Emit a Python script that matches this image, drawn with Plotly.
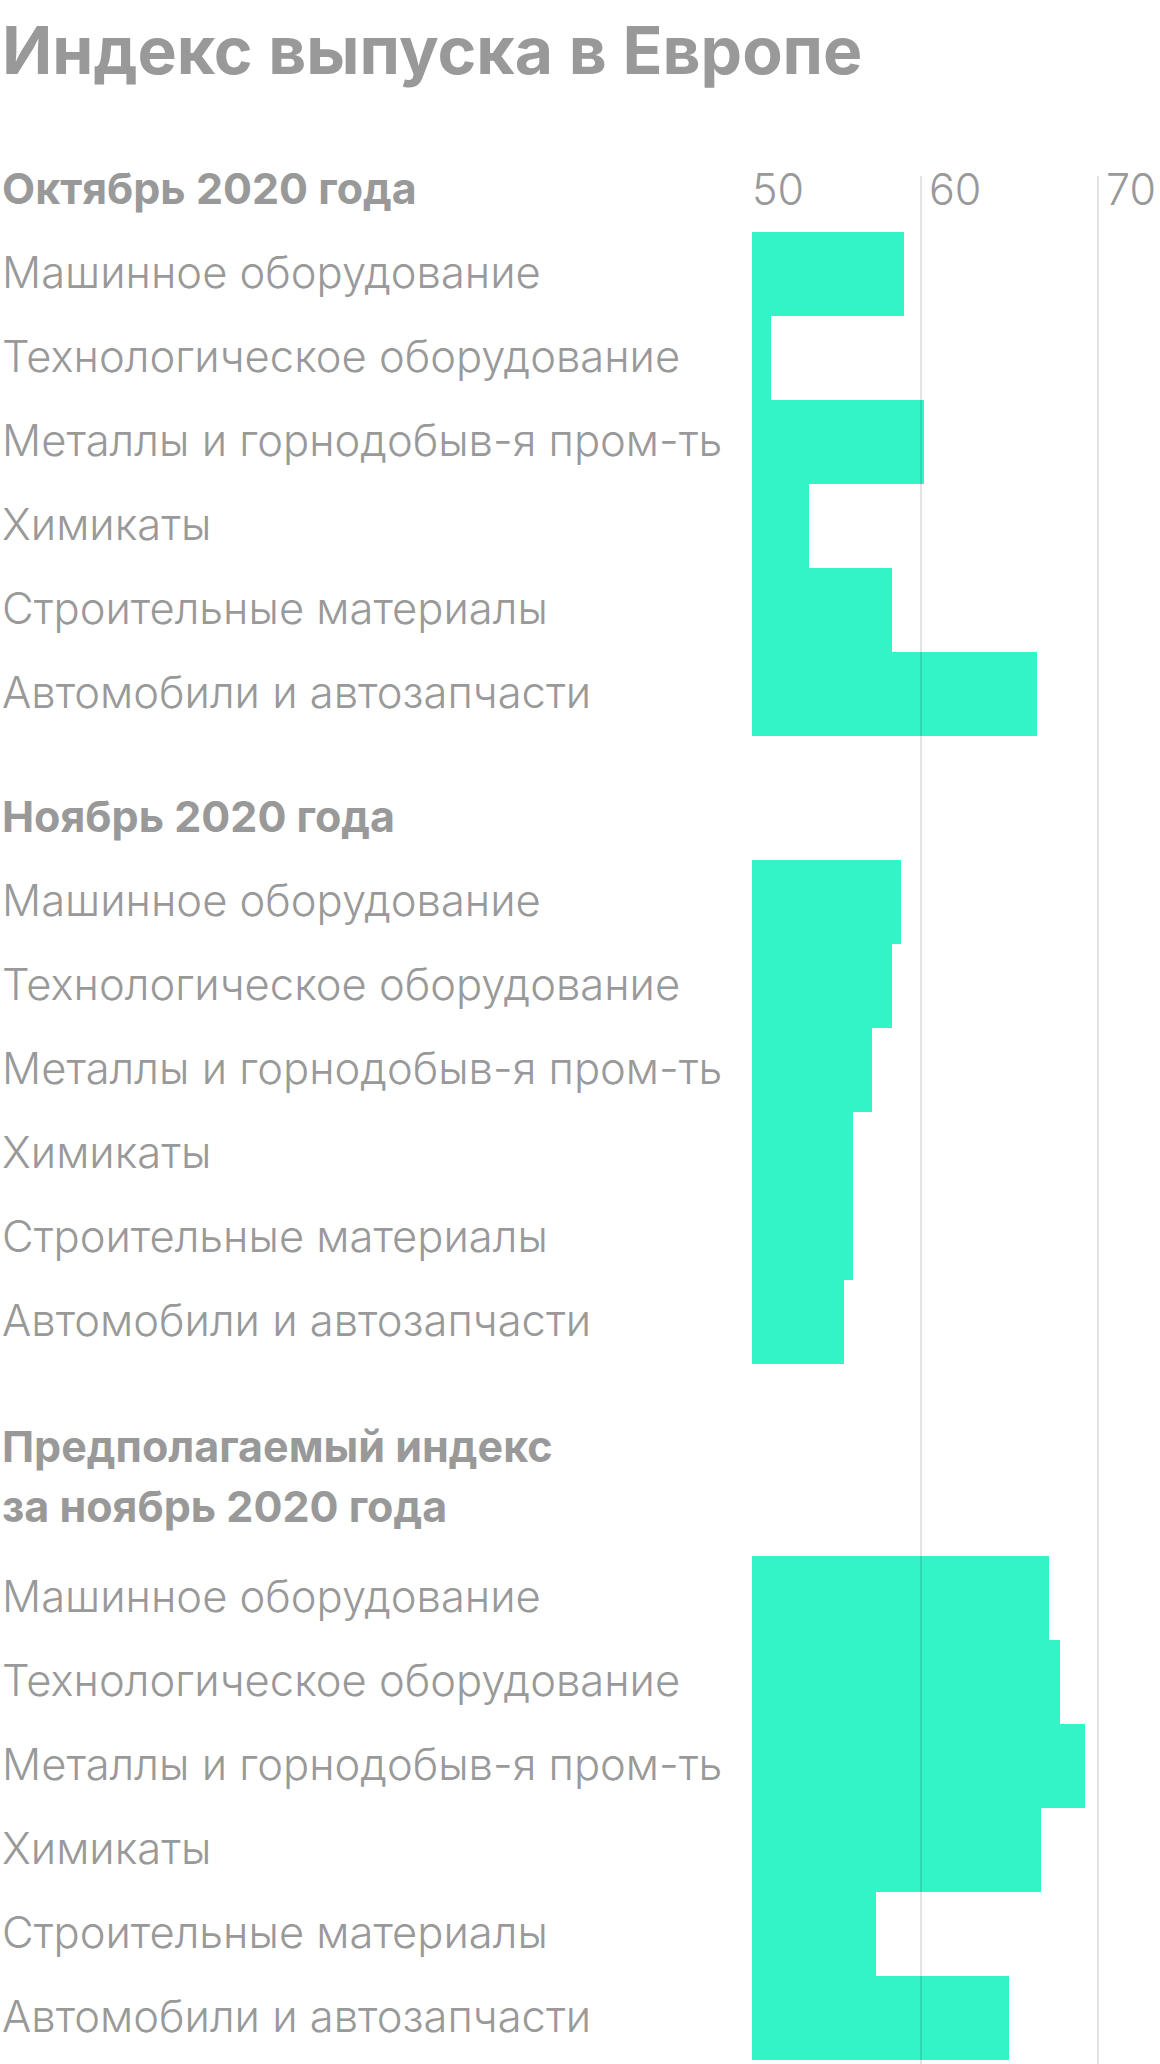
import plotly.graph_objects as go

# Индекс выпуска в Европе (PMI по отраслям)
categories = [
    "Машинное оборудование",
    "Технологическое оборудование",
    "Металлы и горнодобыв-я пром-ть",
    "Химикаты",
    "Строительные материалы",
    "Автомобили и автозапчасти",
]
oct_2020 = [58.6, 51.1, 59.7, 53.2, 57.9, 66.1]
nov_2020 = [58.4, 57.9, 56.8, 55.7, 55.7, 55.2]
nov_forecast = [66.8, 67.4, 68.8, 66.3, 57.0, 64.5]

# header lines per block (the last one takes two lines)
group_titles = [["Октябрь 2020 года"], ["Ноябрь 2020 года"],
                ["Предполагаемый индекс", "за ноябрь 2020 года"]]
tick_vals = [50, 60, 70]
tick_text = ["50", "60", "70"]

W, H = 1160, 2064
GREEN = "#33f4c6"
GREY = "#999999"
FONT = "Inter"

# pixel layout of the three blocks (top, bottom)
blocks = [(232, 736), (860, 1364), (1556, 2060)]
x_left = 752
px_per_unit = 17.7

fig = go.Figure()
series = [oct_2020, nov_2020, nov_forecast]
yaxes = ["y", "y2", "y3"]

for vals, ya in zip(series, yaxes):
    fig.add_trace(go.Bar(
        x=vals, y=categories, orientation="h",
        xaxis="x", yaxis=ya,
        marker=dict(color=GREEN, line=dict(width=0)),
        hoverinfo="x+y", showlegend=False,
    ))

annotations = []
# title
annotations.append(dict(
    text="Индекс выпуска в Европе", xref="paper", yref="paper",
    x=0, y=1, xanchor="left", yanchor="top", yshift=-8, showarrow=False,
    font=dict(family=FONT, size=66, color=GREY, weight=700),
))

for ya, lines in zip(yaxes, group_titles):
    for k, line in enumerate(lines):
        shift = 44 + 60 * (len(lines) - 1 - k) + (6 if len(lines) > 1 else 0)
        annotations.append(dict(
            text=line, xref="paper", yref=ya + " domain", x=0, y=1,
            xanchor="left", yanchor="middle", yshift=shift,
            showarrow=False,
            font=dict(family=FONT, size=43, color=GREY, weight=700),
        ))
    for c in categories:
        annotations.append(dict(
            text=c, xref="paper", yref=ya, x=0, y=c,
            xanchor="left", yanchor="middle", yshift=2, showarrow=False,
            font=dict(family=FONT, size=43.5, color=GREY, weight=300),
        ))

shapes = []
for v in tick_vals[1:]:
    shapes.append(dict(
        type="line", xref="x", xsizemode="pixel", xanchor=v, x0=-8, x1=-8,
        yref="paper", y0=0, y1=1 - 176 / H,
        line=dict(color="rgba(0,0,0,0.11)", width=2), layer="above",
    ))

layout = dict(
    width=W, height=H,
    margin=dict(l=0, r=0, t=0, b=0),
    paper_bgcolor="white", plot_bgcolor="white",
    bargap=0,
    annotations=annotations,
    shapes=shapes,
    xaxis=dict(
        domain=[x_left / W, 1],
        range=[50, 50 + (W - x_left) / px_per_unit],
        anchor="y", side="top",
        tickvals=tick_vals, ticktext=tick_text,
        ticklabelposition="outside right",
        ticks="", showgrid=False, zeroline=False, showline=False,
        tickfont=dict(family=FONT, size=43, color=GREY, weight=300),
        ticklabelstandoff=17,
    ),
)
for ya, (top, bottom) in zip(yaxes, blocks):
    key = "yaxis" if ya == "y" else "yaxis" + ya[1:]
    layout[key] = dict(
        domain=[1 - bottom / H, 1 - top / H],
        anchor="x", autorange="reversed",
        showticklabels=False, showgrid=False, zeroline=False,
        ticks="", showline=False,
    )

fig.update_layout(**layout)

fig.write_html("out.html", config={"displayModeBar": False},
               post_script="document.body.style.margin='0';")
